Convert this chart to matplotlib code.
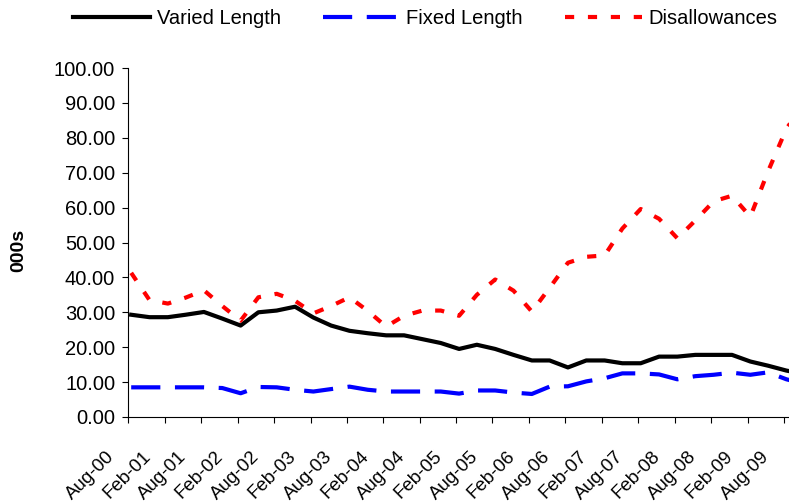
import numpy as np
import pandas as pd
import matplotlib
matplotlib.use('Agg')
import matplotlib.pyplot as plt
import matplotlib.transforms as mtransforms

plt.rcParams['font.family'] = ['Liberation Sans', 'DejaVu Sans']

# quarterly observations, Aug-00 onwards (last one is cut off by the frame)
dates = pd.date_range('2000-08-01', periods=38, freq='3MS') + pd.Timedelta(days=14)

varied = [29.3, 28.6, 28.6, 29.3, 30.1, 28.2, 26.2, 30.0, 30.5, 31.6,
          28.5, 26.2, 24.7, 24.0, 23.4, 23.4, 22.3, 21.2, 19.5, 20.7,
          19.5, 17.8, 16.2, 16.2, 14.2, 16.2, 16.2, 15.4, 15.4, 17.3,
          17.3, 17.8, 17.8, 17.8, 15.9, 14.7, 13.3, 12.3]
fixed = [8.5, 8.5, 8.5, 8.5, 8.5, 8.3, 6.8, 8.6, 8.5, 7.8,
         7.3, 8.0, 8.7, 7.8, 7.3, 7.3, 7.3, 7.3, 6.7, 7.6,
         7.6, 7.0, 6.6, 8.7, 8.8, 10.2, 11.1, 12.5, 12.5, 12.2,
         10.8, 11.7, 12.1, 12.7, 12.1, 12.8, 10.8, 9.5]
disallow = [41.3, 33.5, 32.5, 34.2, 36.3, 31.8, 27.6, 34.3, 35.3, 33.3,
            29.7, 31.8, 34.3, 30.4, 25.9, 29.0, 30.5, 30.5, 29.0, 35.0,
            39.4, 36.2, 30.2, 37.0, 44.2, 45.9, 46.3, 54.0, 59.6, 56.8,
            51.2, 56.3, 61.8, 63.4, 57.4, 70.4, 82.6, 90.0]

tick_dates = pd.date_range('2000-08-01', '2009-08-01', freq='6MS')
tick_labels = [d.strftime('%b-%y') for d in tick_dates]
yticks = np.arange(0, 101, 10)

fig = plt.figure(figsize=(7.89, 5.03), dpi=100)
ax = fig.add_axes([128.4/789, 1-417/503, 1-128.4/789, (417-68)/503])

ax.plot(dates, varied, color='black', lw=3, solid_joinstyle='round',
        label='Varied Length')
ax.plot(dates, fixed, color='#0000ff', lw=3, dashes=(7, 3.5),
        label='Fixed Length')
ax.plot(dates, disallow, color='#ff0000', lw=3, dashes=(2.2, 3.3),
        label='Disallowances')

ax.set_xlim(pd.Timestamp('2000-08-01'), pd.Timestamp('2009-08-28'))
ax.set_ylim(0, 100)
ax.set_yticks(yticks)
ax.set_yticklabels(['%.2f' % v for v in yticks], fontsize=14.5)
ax.set_xticks(tick_dates)
ax.set_xticklabels(tick_labels, fontsize=13.5, rotation=45,
                   ha='right', va='center', rotation_mode='anchor')
ax.tick_params(direction='out', length=4.5, width=0.8, colors='black')
ax.tick_params(axis='x', pad=22)
ax.tick_params(axis='y', pad=5)
shift = mtransforms.ScaledTranslation(-17/100, 0, fig.dpi_scale_trans)
for lab in ax.get_xticklabels():
    lab.set_transform(lab.get_transform() + shift)
for s in ['top', 'right']:
    ax.spines[s].set_visible(False)
for s in ['left', 'bottom']:
    ax.spines[s].set_linewidth(0.8)

fig.text(19/789, 1-250/503, '000s', rotation=90, fontsize=14,
         fontweight='bold', ha='center', va='center')

fig.legend(loc='center left', bbox_to_anchor=(65/789, 1-19/503), ncol=3,
           frameon=False, fontsize=14.5, handlelength=3.8, handletextpad=0.35,
           columnspacing=2.1, borderaxespad=0)

fig.savefig('out.png', dpi=100)
